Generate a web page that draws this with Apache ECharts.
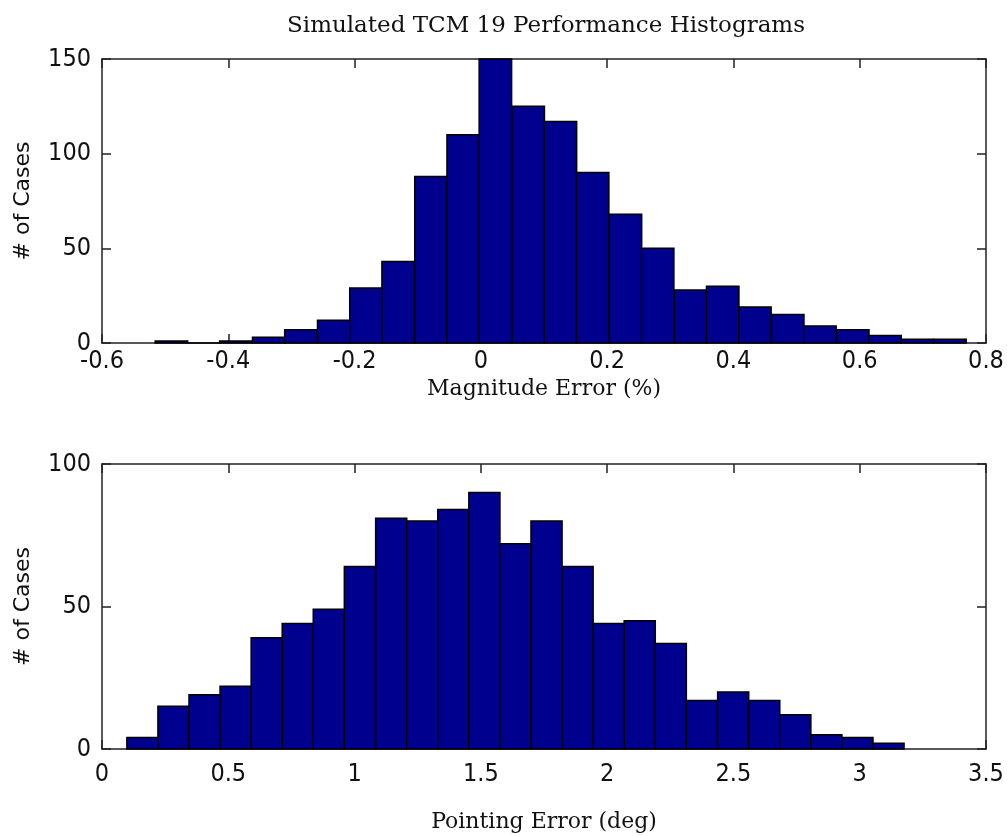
<!DOCTYPE html>
<html>
<head>
<meta charset="utf-8">
<script src="https://cdn.jsdelivr.net/npm/echarts@6/dist/echarts.min.js"></script>
<style>
html,body{margin:0;padding:0;background:#fff;}
#chart{width:1007px;height:836px;}
</style>
</head>
<body>
<div id="chart"></div>
<script>
// ---- data ----
const chartTitle = 'Simulated TCM 19 Performance Histograms';

// Top histogram: Magnitude Error (%)
const magBinCenters = [-0.490, -0.439, -0.388, -0.336, -0.285, -0.233, -0.182, -0.131, -0.079, -0.028,
  0.023, 0.075, 0.126, 0.177, 0.229, 0.280, 0.332, 0.383, 0.434, 0.486,
  0.537, 0.589, 0.640, 0.691, 0.743];
const magCounts = [1, 0, 1, 3, 7, 12, 29, 43, 88, 110,
  150, 125, 117, 90, 68, 50, 28, 30, 19, 15,
  9, 7, 4, 2, 2];
const magBinWidth = 0.0514;
const magTicks = [-0.6, -0.4, -0.2, 0, 0.2, 0.4, 0.6, 0.8];
const magYTicks = [0, 50, 100, 150];

// Bottom histogram: Pointing Error (deg)
const ptBinCenters = [0.160, 0.283, 0.406, 0.529, 0.652, 0.775, 0.898, 1.021, 1.145, 1.268,
  1.391, 1.514, 1.637, 1.760, 1.883, 2.006, 2.129, 2.252, 2.375, 2.499,
  2.622, 2.745, 2.868, 2.991, 3.114];
const ptCounts = [4, 15, 19, 22, 39, 44, 49, 64, 81, 80,
  84, 90, 72, 80, 64, 44, 45, 37, 17, 20,
  17, 12, 5, 4, 2];
const ptBinWidth = 0.1231;
const ptTicks = [0, 0.5, 1, 1.5, 2, 2.5, 3, 3.5];
const ptYTicks = [0, 50, 100];

// ---- styling ----
const frameColor = '#222';
const barFill = '#00008F';
const tickFont = "'Liberation Sans Narrow', 'DejaVu Sans Condensed', 'Liberation Sans', sans-serif";
const serifFont = "'DejaVu Serif', 'Liberation Serif', serif";
const sansFont = "'DejaVu Sans', 'Liberation Sans', sans-serif";

function makeRender(width) {
  return function (params, api) {
    const c = api.value(0), v = api.value(1);
    const p0 = api.coord([c - width / 2, v]);
    const p1 = api.coord([c + width / 2, 0]);
    return {
      type: 'rect',
      shape: { x: p0[0], y: p0[1], width: p1[0] - p0[0], height: p1[1] - p0[1] },
      style: { fill: barFill, stroke: '#000', lineWidth: 1.5 }
    };
  };
}

function xAxisPair(gridIndex, ticks, name, labelMargin, nameGap) {
  const min = ticks[0], max = ticks[ticks.length - 1], interval = ticks[1] - ticks[0];
  const common = {
    gridIndex: gridIndex, type: 'value', min: min, max: max, interval: interval,
    axisLine: { show: true, onZero: false, lineStyle: { color: frameColor, width: 1.5 } },
    axisTick: { show: true, inside: true, length: 9, lineStyle: { color: frameColor, width: 1.5 } },
    splitLine: { show: false }
  };
  return [
    Object.assign({}, common, {
      position: 'bottom',
      axisLabel: { show: true, margin: labelMargin, color: '#111', fontFamily: tickFont, fontSize: 25,
        formatter: function (v) { return String(Math.round(v * 10) / 10); } },
      name: name, nameLocation: 'middle', nameGap: nameGap,
      nameTextStyle: { fontFamily: serifFont, fontSize: 22, color: '#111' }
    }),
    Object.assign({}, common, { position: 'top', axisLabel: { show: false } })
  ];
}

function yAxisPair(gridIndex, ticks) {
  const min = ticks[0], max = ticks[ticks.length - 1], interval = ticks[1] - ticks[0];
  const common = {
    gridIndex: gridIndex, type: 'value', min: min, max: max, interval: interval,
    axisLine: { show: true, onZero: false, lineStyle: { color: frameColor, width: 1.5 } },
    axisTick: { show: true, inside: true, length: 9, lineStyle: { color: frameColor, width: 1.5 } },
    splitLine: { show: false }
  };
  return [
    Object.assign({}, common, {
      position: 'left',
      axisLabel: { show: true, margin: 11, color: '#111', fontFamily: tickFont, fontSize: 25, padding: [7, 0, 0, 0] },
      name: '# of Cases', nameLocation: 'middle', nameGap: 68,
      nameTextStyle: { fontFamily: sansFont, fontSize: 22, color: '#111' }
    }),
    Object.assign({}, common, { position: 'right', axisLabel: { show: false } })
  ];
}

const chart = echarts.init(document.getElementById('chart'), null, { renderer: 'canvas' });
chart.setOption({
  backgroundColor: '#fff',
  animation: false,
  title: {
    text: chartTitle, left: 541, top: 10, textAlign: 'center',
    textStyle: { fontFamily: serifFont, fontSize: 23, fontWeight: 'normal', color: '#111' }
  },
  grid: [
    { left: 102, top: 59, width: 884, height: 284 },
    { left: 102, top: 464, width: 884, height: 285 }
  ],
  xAxis: [].concat(
    xAxisPair(0, magTicks, 'Magnitude Error (%)', 6, 35),
    xAxisPair(1, ptTicks, 'Pointing Error (deg)', 13, 62)
  ),
  yAxis: [].concat(yAxisPair(0, magYTicks), yAxisPair(1, ptYTicks)),
  series: [
    { type: 'custom', xAxisIndex: 0, yAxisIndex: 0, renderItem: makeRender(magBinWidth),
      encode: { x: 0, y: 1 }, data: magBinCenters.map(function (c, i) { return [c, magCounts[i]]; }) },
    { type: 'custom', xAxisIndex: 2, yAxisIndex: 2, renderItem: makeRender(ptBinWidth),
      encode: { x: 0, y: 1 }, data: ptBinCenters.map(function (c, i) { return [c, ptCounts[i]]; }) }
  ]
});
</script>
</body>
</html>
